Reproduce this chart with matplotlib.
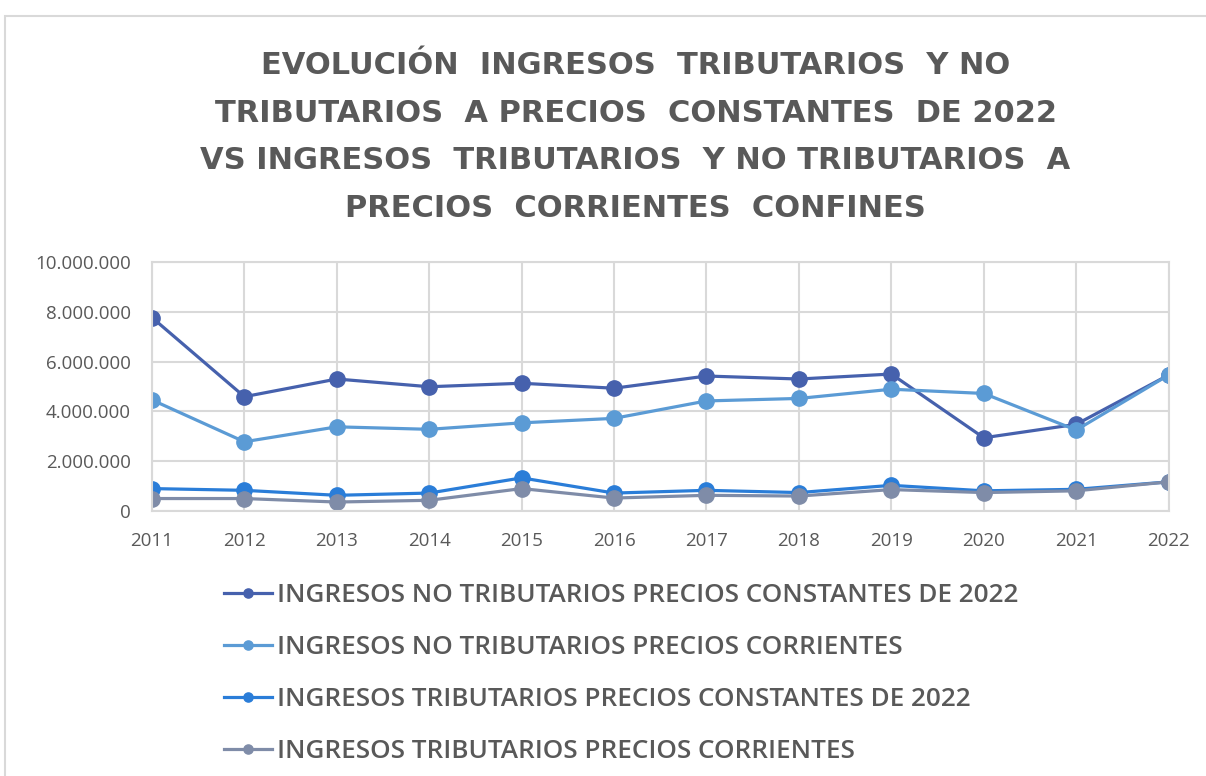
import numpy as np
import matplotlib.pyplot as plt
from matplotlib.patches import Rectangle

years = [2011, 2012, 2013, 2014, 2015, 2016, 2017, 2018, 2019, 2020, 2021, 2022]
nt_constantes = [7770000, 4590000, 5300000, 4990000, 5130000, 4930000, 5420000, 5300000, 5500000, 2940000, 3480000, 5460000]
nt_corrientes = [4460000, 2780000, 3380000, 3280000, 3540000, 3720000, 4420000, 4520000, 4890000, 4720000, 3250000, 5460000]
t_constantes = [900000, 830000, 630000, 720000, 1330000, 720000, 830000, 740000, 1030000, 810000, 870000, 1170000]
t_corrientes = [500000, 500000, 360000, 430000, 900000, 520000, 630000, 600000, 860000, 740000, 810000, 1170000]

labels = ["INGRESOS NO TRIBUTARIOS PRECIOS CONSTANTES DE 2022",
          "INGRESOS NO TRIBUTARIOS PRECIOS CORRIENTES",
          "INGRESOS TRIBUTARIOS PRECIOS CONSTANTES DE 2022",
          "INGRESOS TRIBUTARIOS PRECIOS CORRIENTES"]
colors = ["#4661ad", "#5b9bd5", "#2a7dd8", "#7f8ca8"]

title = ("EVOLUCIÓN  INGRESOS  TRIBUTARIOS  Y NO\n"
         "TRIBUTARIOS  A PRECIOS  CONSTANTES  DE 2022\n"
         "VS INGRESOS  TRIBUTARIOS  Y NO TRIBUTARIOS  A\n"
         "PRECIOS  CORRIENTES  CONFINES")

plt.rcParams['font.family'] = ['Open Sans', 'DejaVu Sans']
txt = "#595959"

fig = plt.figure(figsize=(12.06, 7.76), dpi=100)
ax = fig.add_axes([0.126, 0.3415, 0.843, 0.3209])

series = [nt_constantes, nt_corrientes, t_constantes, t_corrientes]
for vals, lab, col in zip(series, labels, colors):
    ax.plot(years, vals, color=col, lw=2.3, marker='o', markersize=11, label=lab)

ax.set_xlim(2011, 2022)
ax.set_ylim(0, 10000000)
ax.set_xticks(years)
ax.set_yticks(np.arange(0, 10000001, 2000000))
ax.set_yticklabels(['{:,.0f}'.format(v).replace(',', '.') for v in np.arange(0, 10000001, 2000000)])
ax.grid(True, color="#d9d9d9", lw=1.5)
ax.set_axisbelow(True)
for s in ax.spines.values():
    s.set_color("#d9d9d9")
    s.set_linewidth(1.5)
ax.tick_params(length=0, labelsize=13.5, colors=txt)
ax.tick_params(axis='x', pad=15)
ax.tick_params(axis='y', pad=15)

fig.text(0.527, 0.934, title, ha='center', va='top', fontsize=22, fontweight='bold',
         family='DejaVu Sans', color=txt, linespacing=1.81)

leg = fig.legend(loc='upper left', bbox_to_anchor=(0.166, 0.279), frameon=False,
                 prop={'family': 'Open Sans', 'weight': 'semibold', 'size': 18.8},
                 labelcolor=txt, handlelength=1.84, handletextpad=0.22,
                 labelspacing=1.03, markerscale=0.6)

fig.patches.append(Rectangle((0.004, -0.01), 1.1, 0.99, transform=fig.transFigure,
                             fill=False, edgecolor="#d9d9d9", lw=1.5))

fig.savefig("out.png", dpi=100)
